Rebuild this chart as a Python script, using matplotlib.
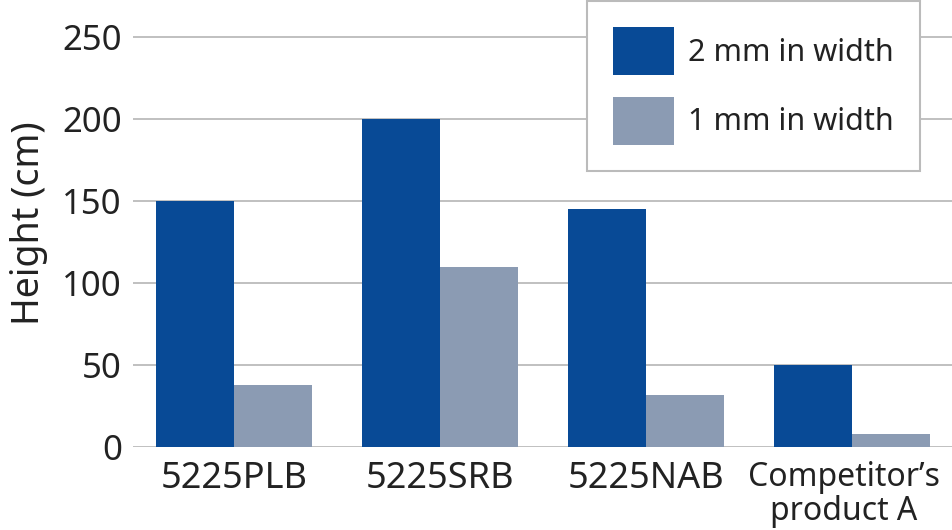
import numpy as np
from matplotlib import pyplot as plt
from matplotlib import transforms
import matplotlib

matplotlib.rcParams['font.family'] = ['Noto Sans', 'DejaVu Sans']

#%% Data
categories = ['5225PLB', '5225SRB', '5225NAB', 'Competitor\u2019s\nproduct A']
series_names = ['2 mm in width', '1 mm in width']
h_2mm = [150, 200, 145, 50]
h_1mm = [38, 110, 32, 8]
yticks = [0, 50, 100, 150, 200, 250]

#%% Plot
fig = plt.figure(figsize=(9.53, 5.30), dpi=100)
ax = fig.add_axes([133/953, 1-447/530, 820/953, 447/530])

x = np.arange(len(categories))
w = 0.379
ax.bar(x - w/2, h_2mm, w, color='#084a96', label=series_names[0], zorder=2)
ax.bar(x + w/2, h_1mm, w, color='#8b9bb3', label=series_names[1], zorder=2)

ax.set_xlim(-0.49, 3.49)
ax.set_ylim(0, 272.5)
ax.set_yticks(yticks)
ax.set_xticks(x, categories)
ax.tick_params(axis='both', length=0, colors='#222222')
ax.tick_params(axis='y', labelsize=25, pad=8)
ax.tick_params(axis='x', labelsize=26, pad=10)
# last label is a two-liner, keep it inside the figure
lbl = ax.get_xticklabels()[-1]
lbl.set_fontsize(23)
lbl.set_linespacing(1.05)
lbl.set_transform(lbl.get_transform() + transforms.ScaledTranslation(-8/100, 0, fig.dpi_scale_trans))
ax.grid(axis='y', color='#bbbbbb', linewidth=1.3, zorder=0)
for s in ax.spines.values():
    s.set_visible(False)
ax.set_ylabel('Height (cm)', fontsize=27, color='#222222', labelpad=10)

leg = ax.legend(loc='upper left', bbox_to_anchor=(587/953, 1-1/530), bbox_transform=fig.transFigure,
                fontsize=22, frameon=True, fancybox=False, edgecolor='#bbbbbb', framealpha=1,
                handlelength=2.0, handleheight=2.05, handletextpad=0.45, labelspacing=0.7,
                borderpad=0.85, borderaxespad=0)
leg.get_frame().set_linewidth(1.5)
for t in leg.get_texts():
    t.set_color('#222222')

fig.savefig('out.png', dpi=100)
